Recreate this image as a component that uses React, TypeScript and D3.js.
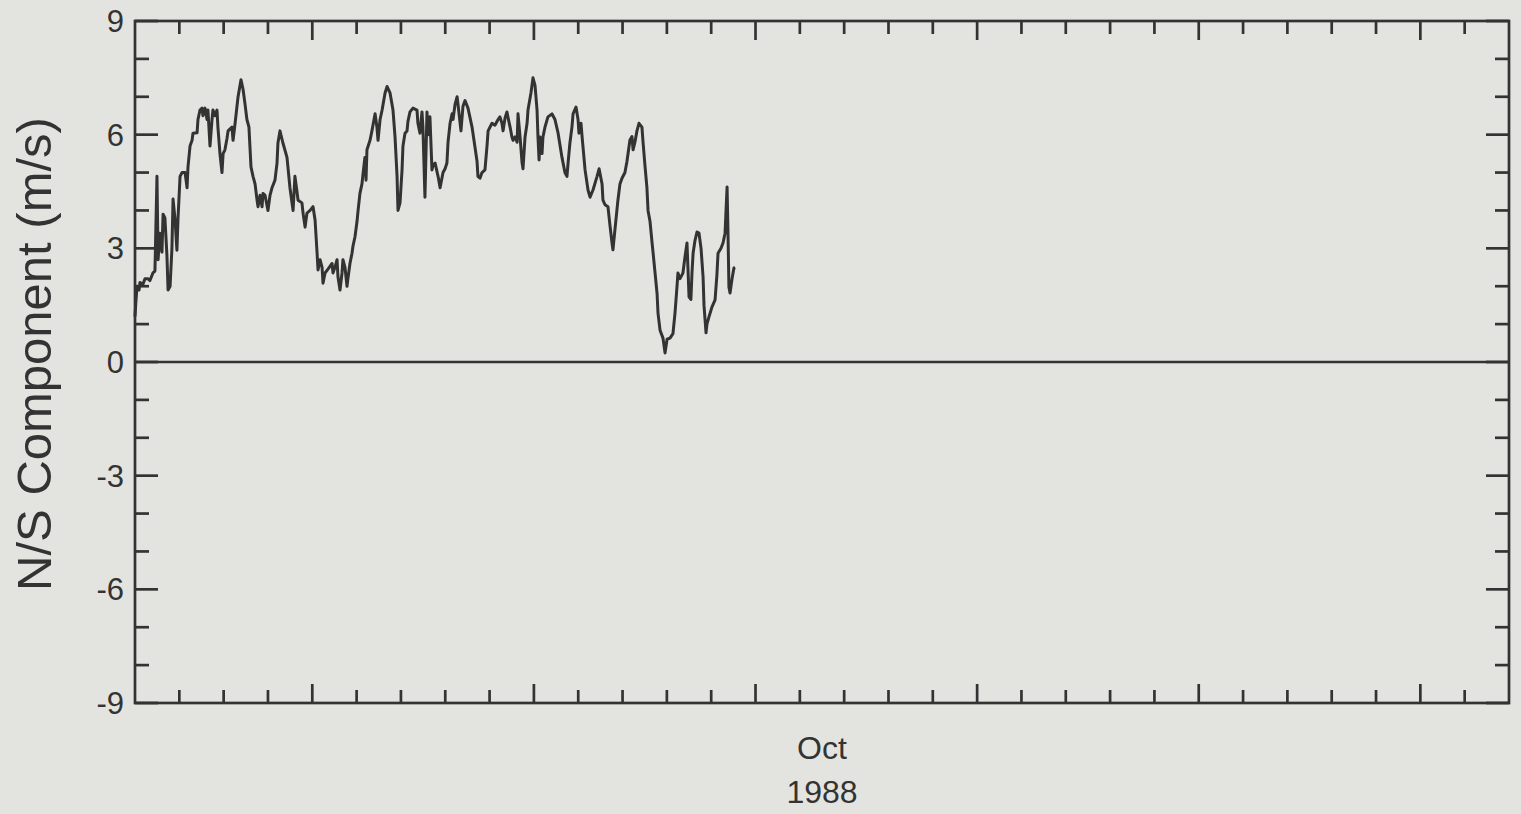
import React from 'react';
import * as d3 from 'd3';

// Hours since 1988-10-01 00:00 UTC
const hours = [
  0.0, 0.5, 1.1, 2.2, 2.7, 4.3, 5.4, 7.0, 8.1, 9.7, 10.8, 11.9, 12.5, 13.5, 14.6, 15.2, 16.2, 17.3, 17.9, 19.0,
  20.0, 20.6, 21.7, 22.7, 23.3, 24.4, 25.5, 27.1, 28.2, 28.7, 29.8, 30.9, 31.4, 33.6, 34.1, 35.2, 36.3, 36.8, 37.9, 39.0,
  39.5, 40.6, 41.7, 42.2, 43.3, 44.4, 44.9, 46.0, 47.1, 47.7, 48.7, 49.8, 50.4, 52.5, 53.1, 54.2, 55.8, 57.4, 58.5, 59.6,
  60.6, 61.7, 62.8, 63.9, 65.0, 66.1, 66.6, 67.7, 68.8, 69.3, 70.4, 72.0, 73.1, 74.2, 75.8, 76.9, 77.4, 78.5, 80.1, 82.3,
  83.9, 85.6, 86.6, 87.7, 88.3, 90.4, 91.0, 92.1, 93.1, 94.8, 96.4, 97.5, 98.6, 99.1, 100.2, 101.3, 101.8, 102.9, 104.5, 106.7,
  107.2, 108.3, 109.4, 109.9, 111.0, 112.1, 112.6, 113.7, 114.8, 115.3, 116.4, 117.5, 118.0, 119.1, 120.2, 120.8, 121.8, 122.9, 123.5, 124.5,
  125.1, 125.6, 127.3, 128.3, 130.0, 131.0, 131.6, 132.7, 133.8, 135.4, 136.5, 138.1, 139.7, 140.8, 141.9, 142.4, 143.5, 144.6, 145.1, 146.2,
  147.3, 147.8, 148.9, 150.5, 152.7, 153.2, 154.3, 155.4, 155.9, 157.0, 158.1, 158.7, 159.7, 160.8, 161.4, 162.5, 164.1, 165.2, 166.8, 167.9,
  168.9, 169.5, 170.6, 171.7, 172.2, 173.3, 174.4, 174.9, 176.5, 177.6, 178.7, 180.3, 182.5, 184.1, 185.2, 185.7, 186.8, 187.9, 189.5, 190.6,
  191.2, 193.3, 194.9, 196.6, 197.6, 198.7, 199.3, 200.4, 201.4, 202.0, 203.1, 204.1, 204.7, 205.8, 206.9, 207.4, 208.5, 209.6, 210.1, 211.2,
  212.3, 212.8, 214.4, 215.5, 216.6, 217.7, 218.2, 218.8, 219.3, 220.4, 220.9, 222.0, 223.6, 225.8, 227.4, 229.1, 231.2, 232.8, 233.9, 234.5,
  235.5, 236.6, 237.2, 238.8, 239.9, 240.4, 241.5, 242.1, 243.7, 245.3, 246.4, 248.0, 250.2, 251.3, 252.9, 253.4, 254.5, 256.1, 257.2, 258.3,
  258.8, 259.9, 261.5, 262.6, 263.7, 265.3, 266.4, 268.0, 269.1, 269.7, 270.7, 271.8, 272.9, 274.5, 275.1, 276.2, 277.2, 277.8, 278.9, 280.0,
  280.5, 281.6, 282.7, 283.2, 284.3, 285.9, 287.0, 288.1, 289.7, 291.3, 292.4, 293.5, 294.0, 295.1, 296.2, 296.7, 297.8, 298.9, 299.4, 300.0,
  301.0, 301.6, 302.2, 303.2, 304.3, 305.4, 306.5, 307.6, 308.1, 309.2, 309.7, 310.8, 312.4, 314.1, 315.1, 315.7, 317.3, 318.4, 319.5, 320.6,
  321.1, 321.6, 322.2, 323.3, 324.3, 324.9,
];

// N/S wind component (m/s)
const nsValues = [
  1.2, 1.6, 2.0, 1.9, 2.1, 2.05, 2.2, 2.2, 2.15, 2.35, 2.4, 4.9, 2.7, 3.4, 2.9, 3.9, 3.8, 2.8, 1.9, 2.0,
  3.0, 4.3, 3.75, 2.95, 3.8, 4.9, 5.0, 5.0, 4.6, 5.15, 5.7, 5.85, 6.04, 6.05, 6.4, 6.65, 6.7, 6.5, 6.7, 6.4,
  6.65, 5.7, 6.4, 6.65, 6.5, 6.65, 6.2, 5.5, 5.0, 5.5, 5.6, 5.9, 6.1, 6.2, 5.85, 6.3, 7.0, 7.45, 7.2, 6.8,
  6.4, 6.2, 5.15, 4.9, 4.7, 4.27, 4.1, 4.4, 4.1, 4.45, 4.4, 4.0, 4.4, 4.6, 4.8, 5.25, 5.78, 6.1, 5.78, 5.4,
  4.6, 4.0, 4.9, 4.5, 4.27, 4.2, 3.93, 3.56, 3.93, 4.0, 4.1, 3.75, 2.87, 2.43, 2.7, 2.5, 2.08, 2.35, 2.45, 2.6,
  2.35, 2.5, 2.7, 2.25, 1.9, 2.35, 2.7, 2.5, 2.0, 2.2, 2.6, 2.87, 3.05, 3.3, 3.7, 4.0, 4.45, 4.7, 4.98, 5.4,
  4.8, 5.6, 5.86, 6.1, 6.55, 6.2, 5.85, 6.4, 6.65, 7.1, 7.27, 7.1, 6.65, 5.94, 4.9, 4.0, 4.2, 5.07, 5.7, 6.04,
  6.1, 6.35, 6.6, 6.7, 6.65, 6.3, 6.04, 6.6, 6.2, 4.35, 6.6, 6.0, 6.47, 5.07, 5.2, 5.25, 4.9, 4.6, 5.0, 5.1,
  5.25, 5.8, 6.3, 6.55, 6.4, 6.8, 7.0, 6.8, 6.1, 6.75, 6.9, 6.7, 6.2, 5.67, 5.3, 4.9, 4.85, 5.0, 5.07, 5.7,
  6.1, 6.3, 6.25, 6.4, 6.47, 6.3, 6.1, 6.45, 6.6, 6.45, 6.2, 5.94, 5.85, 5.94, 5.8, 6.55, 5.94, 5.25, 5.1, 5.94,
  6.3, 6.65, 7.1, 7.5, 7.3, 6.65, 5.94, 5.33, 5.94, 5.5, 5.94, 6.2, 6.47, 6.55, 6.4, 6.04, 5.4, 5.0, 4.9, 5.25,
  5.78, 6.2, 6.55, 6.73, 6.4, 6.04, 6.3, 5.94, 5.07, 4.54, 4.35, 4.54, 4.9, 5.1, 4.7, 4.27, 4.15, 4.1, 3.6, 3.14,
  2.96, 3.5, 4.27, 4.7, 4.85, 5.0, 5.3, 5.86, 5.95, 5.6, 5.8, 6.1, 6.3, 6.2, 5.8, 5.15, 4.6, 4.0, 3.7, 3.14,
  2.9, 2.35, 1.8, 1.29, 0.84, 0.63, 0.24, 0.6, 0.63, 0.75, 1.29, 2.0, 2.35, 2.2, 2.3, 2.35, 2.77, 3.14, 2.5, 1.72,
  1.65, 2.35, 2.87, 3.2, 3.43, 3.4, 3.0, 2.25, 1.5, 0.77, 1.0, 1.19, 1.45, 1.64, 2.3, 2.87, 3.0, 3.14, 3.4, 4.62,
  3.4, 1.98, 1.82, 2.2, 2.48, 2.5,
];

const yLabelTicks = [-9, -6, -3, 0, 3, 6, 9];
const yMinorTicks = [-8, -7, -5, -4, -2, -1, 1, 2, 4, 5, 7, 8];
const monthLabel = 'Oct';
const yearLabel = '1988';
const yTitle = 'N/S Component (m/s)';

export default function App() {
  const W = 1521;
  const H = 814;
  const left = 135, right = 1509, top = 21, bottom = 703;
  const ink = '#333333';
  const font = '"Liberation Sans", Arial, Helvetica, sans-serif';

  const start = Date.UTC(1988, 9, 1);
  const end = Date.UTC(1988, 10, 1);
  const x = d3.scaleUtc().domain([new Date(start), new Date(end)]).range([left, right]);
  const y = d3.scaleLinear().domain([-9, 9]).range([bottom, top]);

  const data = hours.map((h, i) => ({ t: new Date(start + h * 3600e3), v: nsValues[i] }));
  const line = d3
    .line<{ t: Date; v: number }>()
    .x((d) => x(d.t))
    .y((d) => y(d.v));

  const dayTicks = d3.utcDay.range(new Date(start + 86400e3), new Date(end));

  return (
    <svg
      width={W}
      height={H}
      style={{ position: 'absolute', left: 0, top: 0, display: 'block' }}
    >
      <rect x={0} y={0} width={W} height={H} fill="#e3e4e0" />
      <g stroke={ink} strokeWidth={2.7} fill="none">
        {dayTicks.map((d, i) => {
          const major = d.getUTCDate() % 5 === 0;
          const len = major ? 19 : 13;
          const xx = x(d);
          return (
            <g key={i}>
              <line x1={xx} x2={xx} y1={bottom} y2={bottom - len} />
              <line x1={xx} x2={xx} y1={top} y2={top + len} />
            </g>
          );
        })}
        {yMinorTicks.map((v) => (
          <g key={'m' + v}>
            <line x1={left} x2={left + 14} y1={y(v)} y2={y(v)} />
            <line x1={right} x2={right - 14} y1={y(v)} y2={y(v)} />
          </g>
        ))}
        {yLabelTicks.map((v) => (
          <g key={'M' + v}>
            <line x1={left} x2={left + 23} y1={y(v)} y2={y(v)} />
            <line x1={right} x2={right - 23} y1={y(v)} y2={y(v)} />
          </g>
        ))}
        <line x1={left} x2={right} y1={y(0)} y2={y(0)} />
        <path d={line(data) || ''} stroke={ink} strokeWidth={3} strokeLinejoin="round" />
        <rect x={left} y={top} width={right - left} height={bottom - top} />
      </g>
      <g fill={ink} fontFamily={font}>
        {yLabelTicks.map((v) => (
          <text key={'l' + v} x={left - 11} y={y(v)} dy="0.36em" textAnchor="end" fontSize={31}>
            {v}
          </text>
        ))}
        <text x={x(new Date(start + 15.5 * 86400e3))} y={759} textAnchor="middle" fontSize={32}>
          {monthLabel}
        </text>
        <text x={x(new Date(start + 15.5 * 86400e3))} y={803} textAnchor="middle" fontSize={32}>
          {yearLabel}
        </text>
        <text
          transform={`translate(51, ${(top + bottom) / 2 - 8}) rotate(-90)`}
          textAnchor="middle"
          fontSize={49}
        >
          {yTitle}
        </text>
      </g>
    </svg>
  );
}
